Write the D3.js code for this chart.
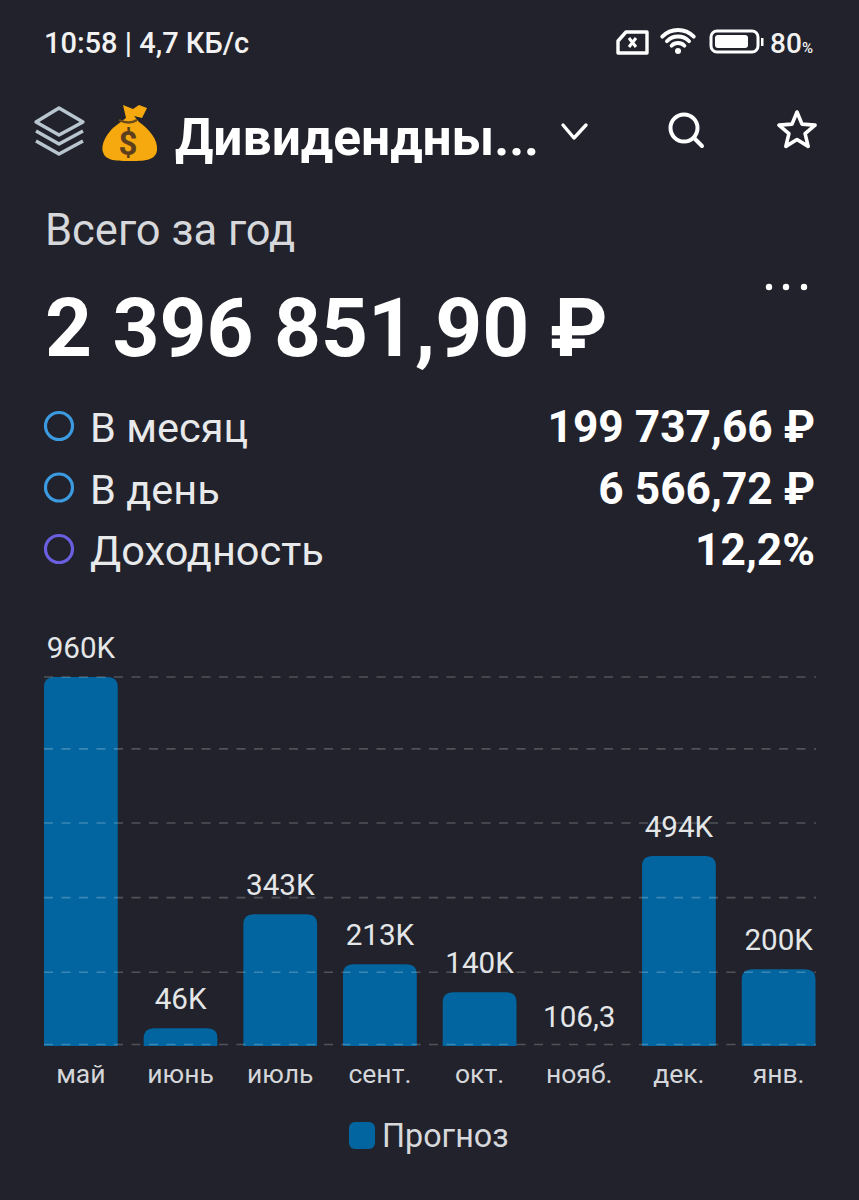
<!DOCTYPE html>
<html>
<head>
<meta charset="utf-8">
<script src="https://cdnjs.cloudflare.com/ajax/libs/d3/7.8.5/d3.min.js"></script>
<style>
  html, body { margin: 0; background: #21222b; }
  svg { display: block; }
  text { font-family: Roboto, "Noto Sans", sans-serif; }
</style>
</head>
<body>
<svg id="chart" width="859" height="1200"></svg>
<script>
const months = ["май", "июнь", "июль", "сент.", "окт.", "нояб.", "дек.", "янв."];
const values = [960000, 46000, 343000, 213000, 140000, 106.3, 494000, 200000];
const valueLabels = ["960K", "46K", "343K", "213K", "140K", "106,3", "494K", "200K"];
const gridValues = [0, 192000, 386000, 580000, 773000, 960000];

const statNames = ["В месяц", "В день", "Доходность"];
const statValues = ["199 737,66 ₽", "6 566,72 ₽", "12,2%"];
const statColors = ["#3b9ae0", "#3b9ae0", "#6a5fe0"];

const BG = "#21222b";
const BAR = "#03659f";
const WHITE = "#ffffff";

const svg = d3.select("#chart");
svg.append("rect").attr("width", 859).attr("height", 1200).attr("fill", BG);

const label = (x, y, str, size, opts = {}) =>
  svg.append("text")
    .attr("x", x).attr("y", y)
    .attr("font-size", size)
    .attr("font-weight", opts.weight || 400)
    .attr("text-anchor", opts.anchor || "start")
    .attr("fill", opts.fill || WHITE)
    .text(str);

// status bar
label(44, 53, "10:58 | 4,7 КБ/с", 29, { weight: 500, fill: "#f2f2f2" });
label(770, 53, "80", 28, { weight: 500, fill: "#f2f2f2" });
label(802, 53, "%", 15, { weight: 500, fill: "#f2f2f2" });

const icons = svg.append("g").attr("fill", "none").attr("stroke", WHITE).attr("stroke-linejoin", "round");
// sim card
icons.append("path").attr("stroke-width", 3.4)
  .attr("d", "M626 32H647V53H618V41Z");
icons.append("path").attr("stroke-width", 3)
  .attr("d", "M629 38L636 47M636 38L629 47");
// wifi
icons.selectAll("path.wifi").data([22, 15.5, 9]).join("path")
  .attr("stroke-width", 3.8).attr("stroke-linecap", "butt")
  .attr("d", r => d3.arc().innerRadius(r).outerRadius(r).startAngle(-0.8).endAngle(0.8)())
  .attr("transform", "translate(678,52)");
icons.append("circle").attr("cx", 678).attr("cy", 51).attr("r", 3).attr("fill", WHITE).attr("stroke", "none");
// battery
icons.append("rect").attr("x", 711).attr("y", 31).attr("width", 47).attr("height", 21).attr("rx", 6).attr("stroke-width", 3);
icons.append("rect").attr("x", 715).attr("y", 35).attr("width", 33).attr("height", 13).attr("rx", 3).attr("fill", WHITE).attr("stroke", "none");
icons.append("rect").attr("x", 761).attr("y", 38).attr("width", 2.5).attr("height", 8).attr("fill", WHITE).attr("stroke", "none");

// layers icon
const layers = svg.append("g").attr("fill", "none").attr("stroke", "#b9c6cf").attr("stroke-width", 3.4).attr("stroke-linejoin", "round");
layers.append("path").attr("d", "M59 108L83 122L59 135L36 122Z");
layers.append("path").attr("d", "M36 131L59 144L83 131");
layers.append("path").attr("d", "M36 141L59 154L83 141");

// money bag
const bag = svg.append("g");
bag.append("path").attr("fill", "#f5a90f")
  .attr("d", "M118 124C104 134 101 147 103 152C105 161 118 161 130 161C143 161 156 161 157 150C158 140 150 130 139 122L134 116L142 118L147 108L139 105L133 109L123 105L126 118Z");
bag.append("path").attr("fill", "none").attr("stroke", "#6b4a1e").attr("stroke-width", 2.4).attr("d", "M119 120Q129 125 137 120");
label(128, 155, "$", 33, { weight: 700, anchor: "middle", fill: "#5d3f1e" });

// header
label(175, 155, "Дивидендны...", 51.5, { weight: 700 });
const head = svg.append("g").attr("fill", "none").attr("stroke", WHITE).attr("stroke-linecap", "round").attr("stroke-linejoin", "round");
head.append("path").attr("stroke-width", 3.4).attr("d", "M563 125L574 138L586 125");
head.append("circle").attr("cx", 684).attr("cy", 128).attr("r", 13.5).attr("stroke-width", 4);
head.append("path").attr("stroke-width", 4).attr("d", "M694 138L702 146");
const star = d3.range(10).map(i => {
  const r = i % 2 ? 8.5 : 19;
  const a = -Math.PI / 2 + i * Math.PI / 5;
  return [797 + r * Math.cos(a), 131 + r * Math.sin(a)];
});
head.append("path").attr("stroke-width", 3.6).attr("d", d3.line()(star) + "Z");

// summary
label(45, 245, "Всего за год", 43.5, { fill: "#d6d8db" });
label(45, 356, "2 396 851,90 ₽", 82, { weight: 700 });
svg.selectAll("circle.more").data([769, 786, 804]).join("circle")
  .attr("class", "more").attr("cx", d => d).attr("cy", 287).attr("r", 3.2).attr("fill", WHITE);

// stat rows
const rowY = d3.scalePoint().domain(statNames).range([426, 549]);
statNames.forEach((name, i) => {
  const y = rowY(name);
  svg.append("circle").attr("cx", 59).attr("cy", y).attr("r", 13.5)
    .attr("fill", "none").attr("stroke", statColors[i]).attr("stroke-width", 3.2);
  label(90, y + 16, name, 41.5, { fill: "#e8e9ea" });
  label(815, y + 16, statValues[i], 44.3, { weight: 700, anchor: "end" });
});

// chart
const x = d3.scaleBand().domain(months).range([44, 815.5]).paddingInner(0.26).paddingOuter(0);
const y = d3.scaleLinear().domain([0, 960000]).range([1046, 677]);

svg.append("g").selectAll("path").data(values).join("path")
  .attr("fill", BAR)
  .attr("d", (d, i) => {
    const x0 = x(months[i]), w = x.bandwidth(), top = y(d), h = y(0) - top;
    if (h < 1) return "";
    const r = Math.min(10, h);
    return `M${x0},${y(0)}V${top + r}Q${x0},${top} ${x0 + r},${top}H${x0 + w - r}Q${x0 + w},${top} ${x0 + w},${top + r}V${y(0)}Z`;
  });

svg.append("g").selectAll("line").data(gridValues).join("line")
  .attr("x1", 44).attr("x2", 816)
  .attr("y1", d => y(d) - (d === 0 ? 1.5 : 0)).attr("y2", d => y(d) - (d === 0 ? 1.5 : 0))
  .attr("stroke", "#ffffff").attr("stroke-opacity", 0.22).attr("stroke-width", 1.6)
  .attr("stroke-dasharray", "9 8.5");

svg.append("g").selectAll("text").data(values).join("text")
  .attr("x", (d, i) => x(months[i]) + x.bandwidth() / 2)
  .attr("y", d => y(d) - 19)
  .attr("text-anchor", "middle").attr("font-size", 29.6).attr("fill", "#e4e6e8")
  .text((d, i) => valueLabels[i]);

svg.append("g").selectAll("text").data(months).join("text")
  .attr("x", d => x(d) + x.bandwidth() / 2)
  .attr("y", 1083)
  .attr("text-anchor", "middle").attr("font-size", 26.5).attr("fill", "#d4d6d9")
  .text(d => d);

// legend
svg.append("rect").attr("x", 349).attr("y", 1122).attr("width", 26).attr("height", 27).attr("rx", 6).attr("fill", BAR);
label(382, 1147, "Прогноз", 32.3, { fill: "#d6d8db" });
</script>
</body>
</html>
